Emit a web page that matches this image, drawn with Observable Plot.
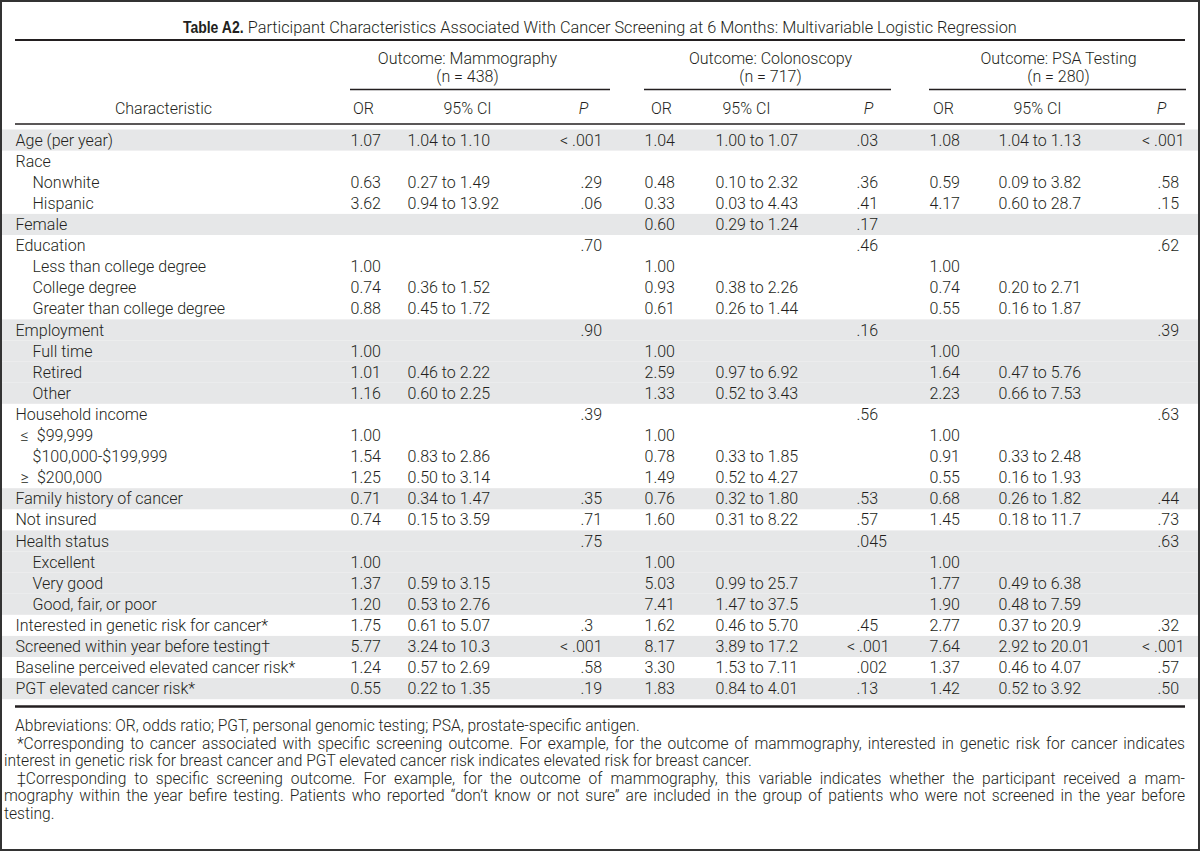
<!DOCTYPE html>
<html>
<head>
<meta charset="utf-8">
<script src="https://cdn.jsdelivr.net/npm/d3@7"></script>
<script src="https://cdn.jsdelivr.net/npm/@observablehq/plot@0.6"></script>
<style>
html, body { margin: 0; padding: 0; background: #fff; }
#page { position: relative; width: 1200px; height: 851px; overflow: hidden;
  font-family: Roboto, "Liberation Sans", Arial, sans-serif; font-weight: 300; color: #231f20; }
#frame { position: absolute; left: 0; top: 0; width: 1200px; height: 851px; box-sizing: border-box;
  border: 2px solid #333; pointer-events: none; }
#title { position: absolute; left: 0; top: 17px; width: 1200px; text-align: center; font-size: 16.3px; line-height: 20px; }
#title b { display: inline-block; font-family: "Liberation Sans", Arial, sans-serif; font-weight: 700;
  transform: scaleX(0.86); transform-origin: right center; margin-left: -10px; }
#chart { position: absolute; left: 0; top: 30px; }
.note { position: absolute; font-size: 15.6px; line-height: 18px; white-space: nowrap; }
.note span { display: inline-block; }
</style>
</head>
<body>
<div id="page">
  <div id="title"><b>Table A2.</b> Participant Characteristics Associated With Cancer Screening at 6 Months: Multivariable Logistic Regression</div>
  <div id="chart"></div>
  <div id="notes"></div>
  <div id="frame"></div>
</div>
<script>
// ---------- data ----------
const characteristics = [
  "Age (per year)", "Race", "Nonwhite", "Hispanic", "Female", "Education",
  "Less than college degree", "College degree", "Greater than college degree",
  "Employment", "Full time", "Retired", "Other",
  "Household income", "≤ $99,999", "$100,000-$199,999", "≥ $200,000",
  "Family history of cancer", "Not insured",
  "Health status", "Excellent", "Very good", "Good, fair, or poor",
  "Interested in genetic risk for cancer*", "Screened within year before testing†",
  "Baseline perceived elevated cancer risk*", "PGT elevated cancer risk*"
];
const levels = [0,0,1,1,0,0,1,1,1,0,1,1,1,0,1,1,1,0,0,0,1,1,1,0,0,0,0];

const outcomes = ["Mammography", "Colonoscopy", "PSA Testing"];
const outcomeN = [438, 717, 280];
const columnHeads = ["OR", "95% CI", "P"];

const mammographyOR = ["1.07","","0.63","3.62","","","1.00","0.74","0.88","","1.00","1.01","1.16","","1.00","1.54","1.25","0.71","0.74","","1.00","1.37","1.20","1.75","5.77","1.24","0.55"];
const mammographyCI = ["1.04 to 1.10","","0.27 to 1.49","0.94 to 13.92","","","","0.36 to 1.52","0.45 to 1.72","","","0.46 to 2.22","0.60 to 2.25","","","0.83 to 2.86","0.50 to 3.14","0.34 to 1.47","0.15 to 3.59","","","0.59 to 3.15","0.53 to 2.76","0.61 to 5.07","3.24 to 10.3","0.57 to 2.69","0.22 to 1.35"];
const mammographyP  = ["< .001","",".29",".06","",".70","","","",".90","","","",".39","","","",".35",".71",".75","","","",".3","< .001",".58",".19"];

const colonoscopyOR = ["1.04","","0.48","0.33","0.60","","1.00","0.93","0.61","","1.00","2.59","1.33","","1.00","0.78","1.49","0.76","1.60","","1.00","5.03","7.41","1.62","8.17","3.30","1.83"];
const colonoscopyCI = ["1.00 to 1.07","","0.10 to 2.32","0.03 to 4.43","0.29 to 1.24","","","0.38 to 2.26","0.26 to 1.44","","","0.97 to 6.92","0.52 to 3.43","","","0.33 to 1.85","0.52 to 4.27","0.32 to 1.80","0.31 to 8.22","","","0.99 to 25.7","1.47 to 37.5","0.46 to 5.70","3.89 to 17.2","1.53 to 7.11","0.84 to 4.01"];
const colonoscopyP  = [".03","",".36",".41",".17",".46","","","",".16","","","",".56","","","",".53",".57",".045","","","",".45","< .001",".002",".13"];

const psaOR = ["1.08","","0.59","4.17","","","1.00","0.74","0.55","","1.00","1.64","2.23","","1.00","0.91","0.55","0.68","1.45","","1.00","1.77","1.90","2.77","7.64","1.37","1.42"];
const psaCI = ["1.04 to 1.13","","0.09 to 3.82","0.60 to 28.7","","","","0.20 to 2.71","0.16 to 1.87","","","0.47 to 5.76","0.66 to 7.53","","","0.33 to 2.48","0.16 to 1.93","0.26 to 1.82","0.18 to 11.7","","","0.49 to 6.38","0.48 to 7.59","0.37 to 20.9","2.92 to 20.01","0.46 to 4.07","0.52 to 3.92"];
const psaP  = ["< .001","",".58",".15","",".62","","","",".39","","","",".63","","","",".44",".73",".63","","","",".32","< .001",".57",".50"];

const footnoteLines = [
  "Abbreviations: OR, odds ratio; PGT, personal genomic testing; PSA, prostate-specific antigen.",
  "*Corresponding to cancer associated with specific screening outcome. For example, for the outcome of mammography, interested in genetic risk for cancer indicates",
  "interest in genetic risk for breast cancer and PGT elevated cancer risk indicates elevated risk for breast cancer.",
  "‡Corresponding to specific screening outcome. For example, for the outcome of mammography, this variable indicates whether the participant received a mam-",
  "mography within the year befire testing. Patients who reported “don’t know or not sure” are included in the group of patients who were not screened in the year before",
  "testing."
];

// ---------- layout (positions in page pixels) ----------
const L = {
  pageTop: 30, svgHeight: 685,
  rowTop: 129.5, pitch: 21.1,
  labelX: [15, 32], hangX: 20,
  charHeadX: 163,
  orX: [350, 644, 929],
  ciX: [407, 715, 998],
  pX: [580, 856, 1157],
  pLtX: [602, 889, 1184],
  headX: [[363, 467, 583], [661, 746, 868], [943, 1037, 1161]],
  groupX: [467, 770, 1058],
  underline: [[350, 610], [644, 891], [929, 1186]],
  yGroup1: 58, yGroup2: 76.5, yUnder: 89, yColHead: 108,
  yTopRule: 39.5, yHeadRule: 123.5, yBottomRule: 706,
  ruleX: [15, 1185], shadeX: [2, 1198],
  noteTop: 717, notePitch: 17.6, noteLeft: [15, 17, 4, 17, 4, 4], noteRight: 1185,
  noteJustify: [false, true, false, true, true, false]
};
const ink = "#231f20";
const shade = "#e6e7e8";

// ---------- tables ----------
let block = -1;
const rows = characteristics.map((label, i) => {
  if (levels[i] === 0) block++;
  const hang = /^[≤≥] /.test(label);  // relational sign hangs slightly into the indent
  return {i, label: hang ? label.replace(" ", "\u2002") : label, level: levels[i], block, hang};
});
const series = [
  {or: mammographyOR, ci: mammographyCI, p: mammographyP},
  {or: colonoscopyOR, ci: colonoscopyCI, p: colonoscopyP},
  {or: psaOR, ci: psaCI, p: psaP}
];
const cells = series.flatMap((s, k) => rows.map(r => ({k, i: r.i, or: s.or[r.i], ci: s.ci[r.i], p: s.p[r.i]})));
const groups = outcomes.map((name, k) => ({k, name, n: outcomeN[k]}));
const heads = groups.flatMap(g => columnHeads.map((h, j) => ({k: g.k, j, h})));

const rowMid = i => L.rowTop + L.pitch * (i + 0.5);
const textOpts = {fill: ink, fontWeight: 300, fontSize: 16, lineAnchor: "middle"};

const chart = Plot.plot({
  width: 1200,
  height: L.svgHeight,
  margin: 0,
  x: {type: "linear", domain: [0, 1200], range: [0, 1200], axis: null},
  y: {type: "linear", domain: [L.pageTop, L.pageTop + L.svgHeight], range: [0, L.svgHeight], axis: null},
  style: {fontFamily: 'Roboto, "Liberation Sans", Arial, sans-serif', fontSize: "16px", color: ink, background: "transparent", overflow: "visible"},
  marks: [
    // row shading
    Plot.rect(rows.filter(r => r.block % 2 === 0), {
      x1: () => L.shadeX[0], x2: () => L.shadeX[1],
      y1: r => L.rowTop + L.pitch * r.i, y2: r => L.rowTop + L.pitch * (r.i + 1),
      fill: shade
    }),
    // rules
    Plot.ruleY([L.yTopRule], {y: d => d, x1: () => L.ruleX[0], x2: () => L.ruleX[1], stroke: ink, strokeWidth: 2.2}),
    Plot.ruleY([L.yHeadRule], {y: d => d, x1: () => L.ruleX[0], x2: () => L.ruleX[1], stroke: ink, strokeWidth: 1.6}),
    Plot.ruleY([L.yBottomRule], {y: d => d, x1: () => L.ruleX[0], x2: () => L.ruleX[1], stroke: ink, strokeWidth: 2.6}),
    Plot.ruleY(groups, {y: () => L.yUnder, x1: g => L.underline[g.k][0], x2: g => L.underline[g.k][1], stroke: ink, strokeWidth: 1.5}),
    // group headers
    Plot.text(groups, {...textOpts, x: g => L.groupX[g.k], y: () => L.yGroup1, text: g => `Outcome: ${g.name}`}),
    Plot.text(groups, {...textOpts, x: g => L.groupX[g.k], y: () => L.yGroup2, text: g => `(n = ${g.n})`}),
    // column headers
    Plot.text(["Characteristic"], {...textOpts, x: () => L.charHeadX, y: () => L.yColHead, text: d => d}),
    Plot.text(heads.filter(d => d.h !== "P"), {...textOpts, x: d => L.headX[d.k][d.j], y: () => L.yColHead, text: "h"}),
    Plot.text(heads.filter(d => d.h === "P"), {...textOpts, x: d => L.headX[d.k][d.j], y: () => L.yColHead, text: "h", fontStyle: "italic"}),
    // row labels
    Plot.text(rows, {...textOpts, x: r => r.hang ? L.hangX : L.labelX[r.level], y: r => rowMid(r.i), text: "label", textAnchor: "start"}),
    // values
    Plot.text(cells.filter(d => d.or), {...textOpts, x: d => L.orX[d.k], y: d => rowMid(d.i), text: "or", textAnchor: "start"}),
    Plot.text(cells.filter(d => d.ci), {...textOpts, x: d => L.ciX[d.k], y: d => rowMid(d.i), text: "ci", textAnchor: "start"}),
    Plot.text(cells.filter(d => d.p && !d.p.startsWith("<")), {...textOpts, x: d => L.pX[d.k], y: d => rowMid(d.i), text: "p", textAnchor: "start"}),
    Plot.text(cells.filter(d => d.p && d.p.startsWith("<")), {...textOpts, x: d => L.pLtX[d.k], y: d => rowMid(d.i), text: "p", textAnchor: "end"})
  ]
});
document.getElementById("chart").appendChild(chart);

// ---------- footnotes ----------
const notes = document.getElementById("notes");
footnoteLines.forEach((t, n) => {
  const div = document.createElement("div");
  div.className = "note";
  div.style.left = L.noteLeft[n] + "px";
  div.style.top = (L.noteTop + n * L.notePitch) + "px";
  const span = document.createElement("span");
  span.textContent = t;
  div.appendChild(span);
  notes.appendChild(div);
  if (L.noteJustify[n]) {
    const target = L.noteRight - L.noteLeft[n];
    const w = span.getBoundingClientRect().width;
    const spaces = (t.match(/ /g) || []).length;
    span.style.wordSpacing = ((target - w) / spaces) + "px";
  }
});
</script>
</body>
</html>
